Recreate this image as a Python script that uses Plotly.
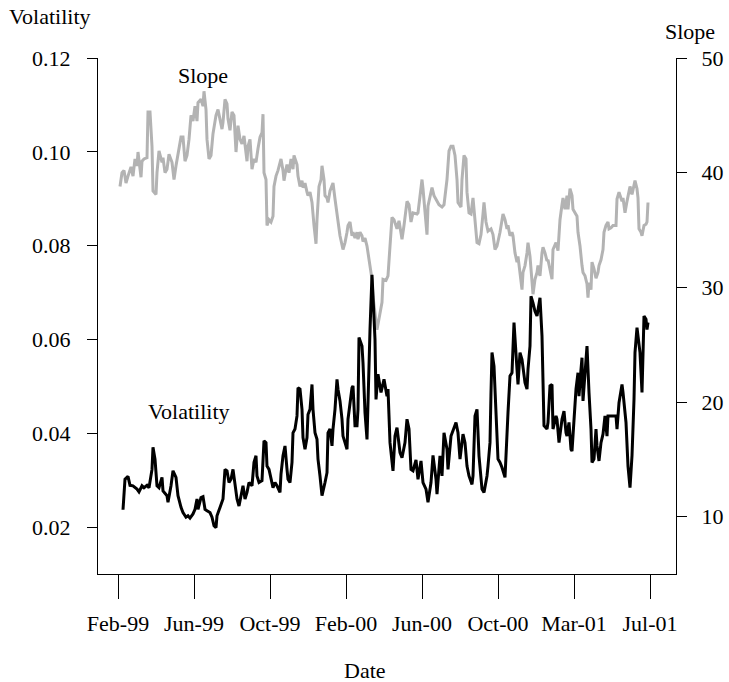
import plotly.graph_objects as go

# observation index (trading-day position), ticks every 76 observations
tick_pos = [0, 76, 152, 228, 304, 380, 456, 532]
tick_labels = ["Feb-99", "Jun-99", "Oct-99", "Feb-00", "Jun-00", "Oct-00", "Mar-01", "Jul-01"]

vol_obs = [5, 7, 10, 12, 15, 19, 21, 24, 26, 29, 31, 34, 35, 37, 39, 41, 44, 45, 49, 50,
           53, 55, 58, 60, 63, 65, 68, 70, 72, 75, 77, 79, 80, 83, 85, 87, 89, 92, 94, 96,
           98, 99, 102, 105, 107, 109, 111, 113, 115, 117, 119, 121, 123, 125, 127, 129, 131, 134, 136, 138,
           139, 141, 144, 146, 148, 149, 151, 154, 155, 157, 159, 162, 163, 165, 167, 169, 170, 172, 174, 175,
           177, 179, 180, 182, 184, 185, 187, 189, 190, 192, 194, 195, 197, 199, 200, 202, 204, 207, 209, 210,
           212, 214, 215, 217, 219, 220, 222, 224, 225, 227, 229, 230, 232, 234, 235, 237, 239, 240, 241, 244,
           245, 247, 249, 250, 252, 254, 255, 257, 258, 260, 263, 266, 269, 270, 272, 275, 277, 279, 282, 284,
           287, 289, 291, 293, 295, 298, 300, 303, 305, 308, 310, 313, 315, 318, 319, 322, 324, 326, 329, 330,
           333, 335, 338, 340, 342, 345, 347, 349, 351, 354, 355, 357, 359, 361, 364, 366, 369, 370, 372, 373,
           374, 376, 378, 380, 382, 384, 387, 389, 390, 392, 394, 396, 397, 399, 400, 402, 404, 405, 407, 409,
           410, 412, 413, 415, 417, 419, 420, 422, 424, 425, 426, 429, 430, 432, 434, 435, 438, 439, 441, 444,
           446, 448, 449, 451, 453, 454, 456, 458, 460, 461, 463, 464, 465, 467, 469, 471, 473, 474, 476, 478,
           479, 481, 483, 485, 487, 489, 490, 493, 495, 498, 499, 501, 504, 505, 508, 510, 512, 514, 516, 517,
           519, 520, 522, 524, 525, 526, 528, 529, 530]
volatility = [0.0237, 0.0302, 0.0308, 0.0289, 0.0288, 0.0281, 0.0275, 0.0288, 0.0284, 0.0289,
              0.0284, 0.0323, 0.0370, 0.0345, 0.0288, 0.0284, 0.0306, 0.0277, 0.0267, 0.0253,
              0.0288, 0.0320, 0.0306, 0.0267, 0.0242, 0.0231, 0.0221, 0.0224, 0.0219, 0.0228,
              0.0238, 0.0260, 0.0238, 0.0263, 0.0265, 0.0238, 0.0235, 0.0231, 0.0221, 0.0203,
              0.0199, 0.0224, 0.0242, 0.0260, 0.0323, 0.0320, 0.0295, 0.0302, 0.0323, 0.0288,
              0.0260, 0.0245, 0.0267, 0.0288, 0.0260, 0.0274, 0.0295, 0.0288, 0.0338, 0.0352,
              0.0309, 0.0295, 0.0299, 0.0384, 0.0380, 0.0330, 0.0323, 0.0295, 0.0284, 0.0295,
              0.0288, 0.0274, 0.0313, 0.0352, 0.0373, 0.0323, 0.0302, 0.0295, 0.0338, 0.0401,
              0.0409, 0.0437, 0.0497, 0.0494, 0.0451, 0.0391, 0.0366, 0.0391, 0.0440, 0.0451,
              0.0504, 0.0451, 0.0401, 0.0387, 0.0345, 0.0309, 0.0267, 0.0295, 0.0316, 0.0401,
              0.0409, 0.0373, 0.0409, 0.0451, 0.0515, 0.0494, 0.0469, 0.0430, 0.0394, 0.0380,
              0.0366, 0.0430, 0.0465, 0.0497, 0.0501, 0.0416, 0.0416, 0.0451, 0.0604, 0.0586,
              0.0550, 0.0444, 0.0387, 0.0479, 0.0621, 0.0738, 0.0692, 0.0600, 0.0472, 0.0526,
              0.0487, 0.0515, 0.0479, 0.0494, 0.0380, 0.0320, 0.0394, 0.0412, 0.0359, 0.0348,
              0.0380, 0.0430, 0.0409, 0.0323, 0.0320, 0.0343, 0.0302, 0.0341, 0.0295, 0.0281,
              0.0253, 0.0295, 0.0353, 0.0302, 0.0270, 0.0352, 0.0309, 0.0401, 0.0366, 0.0323,
              0.0394, 0.0405, 0.0423, 0.0401, 0.0345, 0.0398, 0.0380, 0.0330, 0.0309, 0.0291,
              0.0309, 0.0437, 0.0451, 0.0352, 0.0281, 0.0274, 0.0309, 0.0330, 0.0380, 0.0487,
              0.0572, 0.0543, 0.0451, 0.0345, 0.0338, 0.0327, 0.0306, 0.0380, 0.0444, 0.0522,
              0.0529, 0.0636, 0.0593, 0.0536, 0.0504, 0.0572, 0.0557, 0.0536, 0.0508, 0.0494,
              0.0536, 0.0586, 0.0692, 0.0678, 0.0660, 0.0650, 0.0664, 0.0689, 0.0607, 0.0501,
              0.0416, 0.0409, 0.0423, 0.0501, 0.0504, 0.0409, 0.0437, 0.0430, 0.0380, 0.0430,
              0.0447, 0.0401, 0.0394, 0.0423, 0.0366, 0.0362, 0.0437, 0.0494, 0.0529, 0.0479,
              0.0536, 0.0561, 0.0469, 0.0522, 0.0586, 0.0487, 0.0409, 0.0338, 0.0345, 0.0409,
              0.0373, 0.0341, 0.0380, 0.0398, 0.0437, 0.0394, 0.0437, 0.0437, 0.0437, 0.0437,
              0.0409, 0.0465, 0.0504, 0.0487, 0.0423, 0.0330, 0.0284, 0.0352, 0.0472, 0.0572,
              0.0625, 0.0607, 0.0572, 0.0487, 0.0593, 0.0650, 0.0643, 0.0621, 0.0636]

slope_obs = [2, 4, 6, 8, 10, 13, 15, 17, 19, 20, 23, 24, 26, 29, 30, 32, 34, 35, 38, 39,
             41, 44, 45, 47, 49, 51, 54, 56, 58, 60, 63, 65, 67, 69, 71, 73, 75, 77, 79, 80,
             83, 85, 86, 88, 89, 91, 93, 95, 98, 100, 101, 104, 105, 107, 109, 110, 112, 114, 116, 118,
             120, 122, 124, 126, 129, 130, 132, 134, 136, 138, 140, 142, 144, 145, 146, 148, 149, 151, 153, 155,
             156, 158, 160, 163, 165, 166, 168, 169, 171, 173, 175, 176, 179, 180, 182, 184, 185, 187, 189, 190,
             192, 194, 196, 198, 199, 201, 203, 204, 206, 207, 209, 210, 212, 214, 215, 217, 219, 220, 222, 225,
             227, 229, 230, 232, 234, 235, 237, 239, 240, 242, 244, 245, 247, 249, 250, 252, 254, 255, 257, 259,
             264, 265, 268, 270, 272, 274, 276, 279, 281, 284, 286, 289, 291, 293, 295, 299, 300, 302, 304, 305,
             309, 310, 314, 316, 319, 321, 324, 326, 329, 331, 333, 335, 337, 339, 340, 343, 344, 346, 348, 349,
             351, 353, 355, 357, 359, 361, 363, 365, 366, 368, 370, 373, 375, 377, 379, 382, 384, 385, 387, 389,
             390, 392, 394, 395, 397, 399, 400, 402, 404, 405, 407, 409, 410, 412, 414, 415, 417, 419, 420, 422,
             424, 425, 427, 429, 430, 432, 434, 435, 438, 440, 442, 444, 445, 447, 449, 450, 452, 454, 455, 457,
             459, 460, 462, 464, 465, 467, 469, 470, 471, 473, 474, 476, 478, 480, 481, 483, 485, 486, 488, 490,
             491, 493, 495, 498, 499, 501, 504, 505, 507, 509, 510, 512, 514, 515, 517, 519, 520, 521, 523, 524,
             526, 528, 529, 530]
slope = [38.8, 40.0, 40.2, 39.1, 39.7, 40.5, 39.7, 41.2, 40.6, 41.8,
         39.6, 41.0, 41.2, 41.3, 45.3, 45.3, 42.3, 38.4, 38.1, 40.0,
         41.9, 40.9, 41.3, 40.0, 40.3, 41.6, 40.9, 39.4, 40.6, 41.5,
         43.1, 43.1, 41.0, 41.5, 42.9, 45.0, 44.5, 45.8, 44.5, 46.1,
         46.4, 45.8, 47.1, 45.5, 42.9, 41.2, 41.5, 43.4, 45.0, 45.5,
         45.0, 43.8, 44.4, 46.4, 46.0, 44.7, 43.7, 45.3, 45.0, 41.8,
         44.1, 42.9, 42.5, 43.2, 41.0, 42.3, 42.9, 40.3, 41.2, 40.9,
         42.1, 43.1, 43.5, 45.1, 40.0, 39.4, 35.4, 35.9, 35.7, 36.2,
         38.8, 39.7, 40.2, 41.2, 40.2, 39.3, 40.3, 40.7, 40.0, 41.2,
         40.3, 41.5, 40.7, 39.7, 38.8, 39.3, 38.7, 39.1, 38.3, 38.0,
         38.3, 37.4, 35.4, 33.8, 35.9, 38.8, 39.4, 40.6, 39.4, 38.0,
         37.8, 37.4, 38.4, 38.8, 39.1, 37.7, 36.4, 35.4, 34.5, 33.3,
         33.9, 34.8, 35.4, 35.7, 34.5, 34.8, 34.3, 34.8, 34.2, 34.8,
         34.5, 34.0, 34.3, 33.6, 33.0, 31.6, 30.7, 29.2, 27.8, 26.3,
         28.7, 30.7, 30.6, 31.0, 33.6, 36.1, 35.9, 35.1, 35.8, 34.2,
         35.4, 37.5, 37.2, 35.7, 36.5, 36.4, 36.5, 37.8, 39.4, 38.6,
         34.6, 37.1, 38.7, 38.0, 37.5, 37.2, 37.0, 37.2, 39.4, 41.9,
         42.3, 42.3, 41.5, 39.4, 37.4, 37.0, 39.4, 41.5, 41.2, 38.3,
         36.5, 36.4, 37.8, 35.9, 33.9, 33.8, 34.6, 36.4, 37.4, 35.7,
         34.9, 35.1, 34.6, 33.3, 33.6, 34.8, 35.9, 36.4, 35.9, 35.1,
         35.4, 34.5, 34.8, 34.5, 33.0, 32.2, 32.7, 31.3, 29.8, 31.3,
         31.9, 33.0, 33.9, 32.7, 30.4, 29.4, 30.7, 31.3, 31.9, 31.0,
         33.0, 33.5, 33.0, 32.3, 32.4, 31.6, 30.7, 33.3, 33.9, 33.2,
         35.9, 37.2, 37.8, 36.8, 38.0, 36.8, 38.6, 38.0, 36.8, 36.5,
         36.2, 34.8, 33.6, 31.9, 31.3, 31.0, 30.3, 29.1, 30.4, 29.8,
         32.2, 31.6, 30.8, 31.3, 31.9, 32.4, 33.3, 34.8, 35.4, 35.7,
         35.1, 35.2, 35.4, 35.4, 37.7, 38.3, 37.5, 37.8, 36.5, 37.5,
         38.0, 38.8, 38.1, 38.6, 39.3, 38.6, 37.8, 35.1, 34.8, 34.5,
         35.4, 35.5, 35.7, 37.4]

vol_ticks = [0.02, 0.04, 0.06, 0.08, 0.10, 0.12]
slope_ticks = [10, 20, 30, 40, 50]

FONT = "'Liberation Serif', 'Times New Roman', 'DejaVu Serif', serif"
FS = 22

fig = go.Figure()
fig.add_trace(go.Scatter(x=slope_obs, y=slope, mode="lines", yaxis="y",
                         line=dict(color="#b3b3b3", width=3), showlegend=False))
fig.add_trace(go.Scatter(x=vol_obs, y=volatility, mode="lines", yaxis="y2",
                         line=dict(color="black", width=3), showlegend=False))

axis_font = dict(family=FONT, size=FS, color="black")

fig.update_layout(
    width=729, height=682,
    margin=dict(l=98, r=53, t=58, b=108),
    paper_bgcolor="white", plot_bgcolor="white",
    font=dict(family=FONT, size=FS, color="black"),
    xaxis=dict(range=[-20, 558], tickmode="array", tickvals=tick_pos, ticktext=tick_labels,
               showgrid=False, zeroline=False, showline=True, linecolor="black", linewidth=1,
               ticks="outside", ticklen=24, tickcolor="black", tickwidth=1,
               ticklabelstandoff=6, tickfont=axis_font, automargin=False),
    yaxis=dict(side="right", range=[5, 50], tickmode="array", tickvals=slope_ticks,
               showgrid=False, zeroline=False, showline=True, linecolor="black", linewidth=1,
               ticks="outside", ticklen=10, tickcolor="black", tickwidth=1,
               ticklabelstandoff=10, tickfont=axis_font, automargin=False),
    yaxis2=dict(side="left", overlaying="y", range=[0.01, 0.12], tickmode="array",
                tickvals=vol_ticks, ticktext=[f"{v:.2f}" for v in vol_ticks],
                showgrid=False, zeroline=False, showline=True, linecolor="black", linewidth=1,
                ticks="outside", ticklen=10, tickcolor="black", tickwidth=1,
                ticklabelstandoff=12, tickfont=axis_font, automargin=False),
    annotations=[
        dict(text="Volatility", xref="paper", yref="paper", x=-0.083, y=1.0, yshift=42,
             xanchor="center", yanchor="middle", showarrow=False, font=axis_font),
        dict(text="Slope", xref="paper", yref="paper", x=1.0, y=1.0, xshift=14, yshift=27,
             xanchor="center", yanchor="middle", showarrow=False, font=axis_font),
        dict(text="Date", xref="paper", yref="paper", x=0.462, y=0, yshift=-96,
             xanchor="center", yanchor="middle", showarrow=False, font=axis_font),
        dict(text="Slope", xref="x", yref="y", x=85, y=48.5, showarrow=False,
             xanchor="center", yanchor="middle", font=axis_font),
        dict(text="Volatility", xref="x", yref="y2", x=71, y=0.0447, showarrow=False,
             xanchor="center", yanchor="middle", font=axis_font),
    ],
)

fig.write_html("out.html", config={"displayModeBar": False},
               post_script="document.body.style.margin='0px';document.body.style.padding='0px';")
